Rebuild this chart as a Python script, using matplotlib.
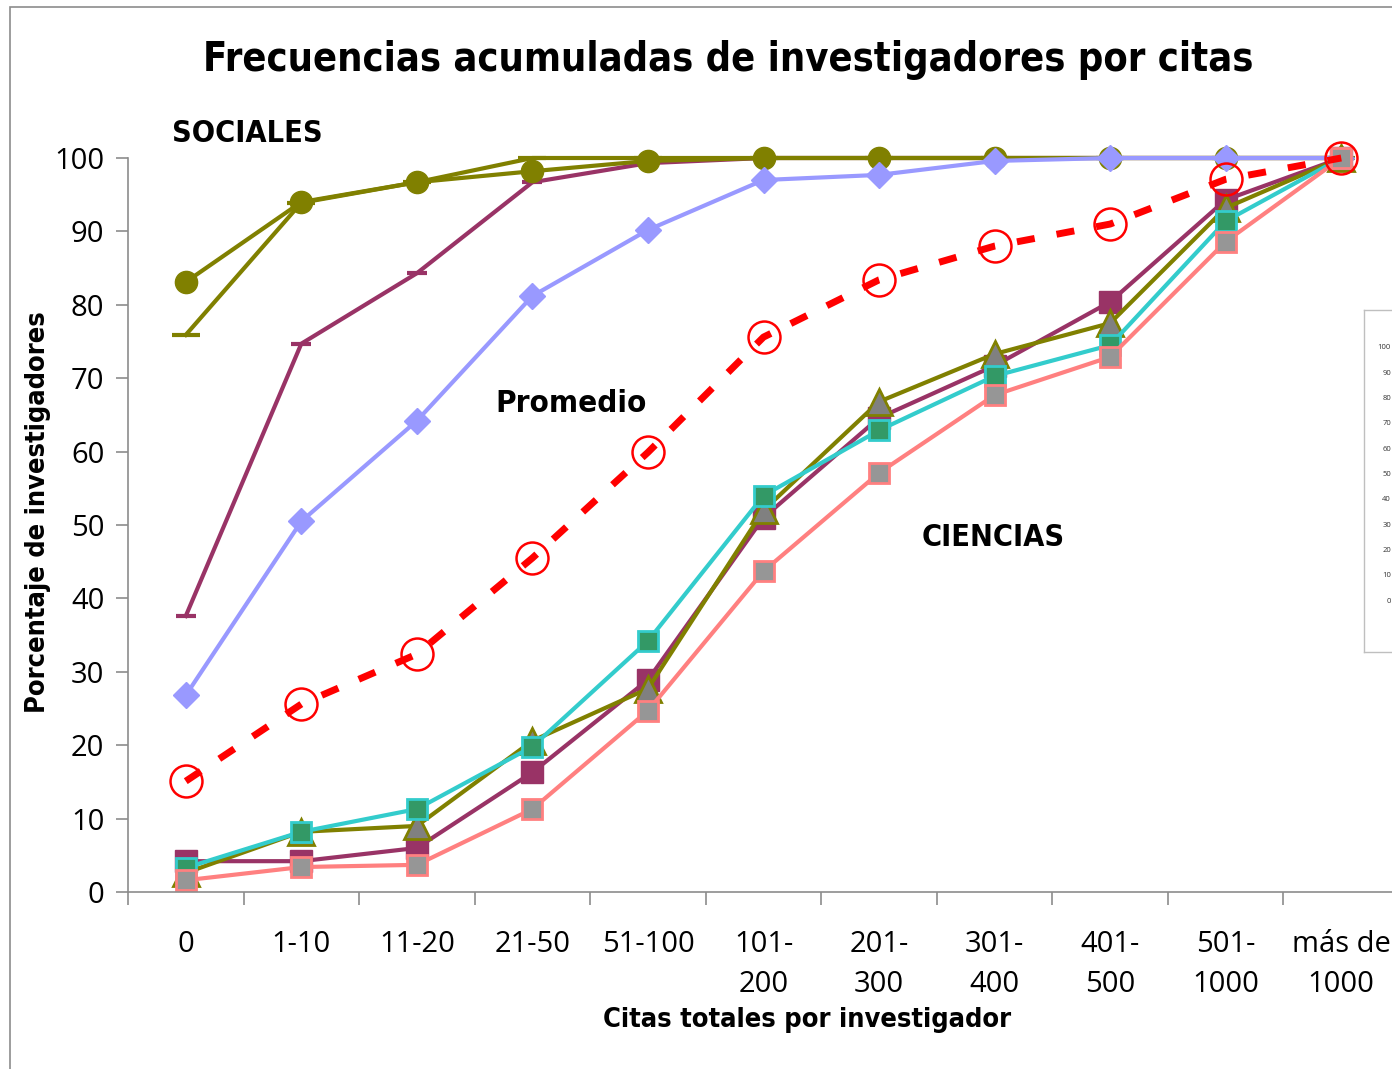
import matplotlib
matplotlib.use("Agg")
import matplotlib.pyplot as plt
from matplotlib.patches import Rectangle
from matplotlib import font_manager as fm

categories = ["0", "1-10", "11-20", "21-50", "51-100", "101-\n200", "201-\n300",
              "301-\n400", "401-\n500", "501-\n1000", "más de\n1000"]

soc_circ = [83.1, 94.0, 96.7, 98.2, 99.6, 100, 100, 100, 100, 100, 100]
soc_dash_olive = [75.9, 93.9, 96.7, 100, 100, 100, 100, 100, 100, 100, 100]
soc_dash_purple = [37.6, 74.7, 84.3, 96.7, 99.3, 100, 100, 100, 100, 100, 100]
soc_diamond = [26.8, 50.5, 64.2, 81.2, 90.2, 97.0, 97.7, 99.6, 100, 100, 100]

promedio = [15.1, 25.6, 32.4, 45.5, 59.9, 75.6, 83.4, 88.0, 91.0, 97.1, 100]

cie_purple = [4.2, 4.2, 6.0, 16.3, 28.9, 51.0, 64.6, 71.7, 80.4, 94.3, 100]
cie_triangle = [2.6, 8.2, 9.0, 20.6, 27.7, 52.0, 66.8, 73.3, 77.5, 93.2, 100]
cie_teal = [3.3, 8.2, 11.3, 19.8, 34.2, 54.0, 62.9, 70.3, 74.5, 91.4, 100]
cie_pink = [1.6, 3.4, 3.7, 11.3, 24.7, 43.7, 57.1, 67.7, 72.9, 88.6, 100]

inset_ticks = [0, 10, 20, 30, 40, 50, 60, 70, 80, 90, 100]

W, H = 1392, 1069
fig = plt.figure(figsize=(W / 100, H / 100), dpi=100)
fig.patch.set_facecolor("white")

TICKF = ["Open Sans", "DejaVu Sans"]
# find a condensed bold font
cond_file = None
for f in fm.fontManager.ttflist:
    if f.name == "DejaVu Sans" and "Condensed" in f.fname and "Bold" in f.fname and "Oblique" not in f.fname:
        cond_file = f.fname
        break
if cond_file:
    NP = dict(fontproperties=fm.FontProperties(fname=cond_file))
else:
    NP = dict(fontfamily="DejaVu Sans", fontweight="bold", fontstretch="condensed")


def ntext(xp, yp, s, size, **k):
    t = fig.text(xp, yp, s, **NP, **k)
    t.set_fontsize(size)
    return t


# outer frame
fig.patches.append(Rectangle((10 / W, -0.05), 1.2, (H - 7) / H + 0.05,
                             transform=fig.transFigure, fill=False,
                             edgecolor="#8c8c8c", linewidth=1.2))

left = 128 / W
right = 1399 / W
bottom = (H - 892) / H
top = (H - 158) / H
ax = fig.add_axes([left, bottom, right - left, top - bottom])
ax.set_facecolor("none")
x = list(range(len(categories)))

lw = 3.0
ms = 16
kw = dict(clip_on=False)

ax.plot(x, soc_dash_purple, color="#993366", lw=lw, marker="_", ms=14,
        markeredgewidth=3, markeredgecolor="#993366", **kw)
ax.plot(x, soc_circ, color="#808000", lw=lw, marker="o", ms=ms,
        markerfacecolor="#808000", markeredgecolor="#808000", **kw)
ax.plot(x, soc_dash_olive, color="#808000", lw=lw, marker="_", ms=20,
        markeredgewidth=3, markeredgecolor="#808000", **kw)
ax.plot(x, soc_diamond, color="#9999FF", lw=lw, marker="D", ms=13,
        markerfacecolor="#9999FF", markeredgecolor="#9999FF", **kw)

ax.plot(x, cie_purple, color="#993366", lw=lw, marker="s", ms=16,
        markerfacecolor="#993366", markeredgecolor="#993366", **kw)
ax.plot(x, cie_triangle, color="#808000", lw=lw, marker="^", ms=19,
        markerfacecolor="#808080", markeredgecolor="#808000", markeredgewidth=2, **kw)
ax.plot(x, cie_teal, color="#33CCCC", lw=lw, marker="s", ms=15,
        markerfacecolor="#339966", markeredgecolor="#33CCCC", markeredgewidth=2, **kw)
ax.plot(x, cie_pink, color="#FF8080", lw=lw, marker="s", ms=15,
        markerfacecolor="#969696", markeredgecolor="#FF8080", markeredgewidth=2, **kw)

ax.plot(x, promedio, color="#FF0000", lw=5, linestyle=(0, (2.6, 3.2)),
        marker="o", ms=23, markerfacecolor="none", markeredgecolor="#FF0000",
        markeredgewidth=1.8, **kw)

ax.set_xlim(-0.5, len(categories) - 0.5)
ax.set_ylim(0, 100)
ax.set_yticks(range(0, 101, 10))
ax.set_xticks(x)
ax.set_xticklabels(categories, fontfamily=TICKF, fontsize=21, linespacing=1.5)
ax.set_xticks([i + 0.5 for i in range(-1, len(categories))], minor=True)
for lab in ax.get_yticklabels():
    lab.set_fontfamily(TICKF)
    lab.set_fontsize(21)
ax.tick_params(axis="x", which="major", length=0, pad=27)
ax.tick_params(axis="x", which="minor", length=9, color="#8c8c8c", width=1.2)
ax.tick_params(axis="y", length=9, color="#8c8c8c", width=1.2, pad=8)
for s in ["top", "right"]:
    ax.spines[s].set_visible(False)
for s in ["left", "bottom"]:
    ax.spines[s].set_color("#8c8c8c")
    ax.spines[s].set_linewidth(1.2)

# texts
ntext(728 / W, 1 - 60 / H, "Frecuencias acumuladas de investigadores por citas", 28.5,
      ha="center", va="center")
ntext(172 / W, 1 - 133 / H, "SOCIALES", 22, ha="left", va="center")
ntext(495 / W, 1 - 403 / H, "Promedio", 22.5, ha="left", va="center")
ntext(922 / W, 1 - 537 / H, "CIENCIAS", 22, ha="left", va="center")
ntext(807 / W, 1 - 1020 / H, "Citas totales por investigador", 19.5, ha="center", va="center")
ntext(38 / W, 1 - 512 / H, "Porcentaje de investigadores", 19.5, ha="center", va="center",
      rotation=90)

# small inset box at right edge
ins = fig.add_axes([1364 / W, (H - 652) / H, 100 / W, 342 / H])
ins.set_xlim(0, 1)
ins.set_ylim(-20.1, 115)
ins.set_xticks([])
ins.set_yticks([])
for s in ins.spines.values():
    s.set_color("#bfbfbf")
    s.set_linewidth(1)
for v in inset_ticks:
    ins.text(0.27, v, str(v), ha="right", va="center", fontsize=5.5,
             fontfamily=TICKF, color="#333333")

fig.savefig("out.png", dpi=100)
